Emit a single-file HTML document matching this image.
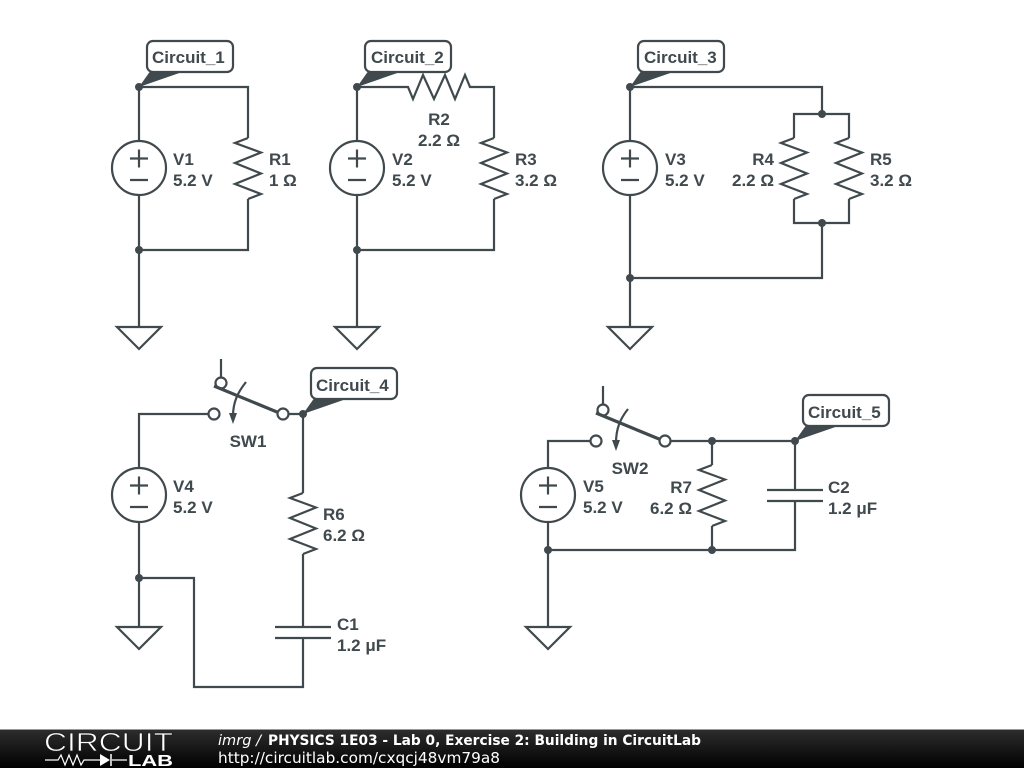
<!DOCTYPE html>
<html><head><meta charset="utf-8"><style>
html,body{margin:0;padding:0;background:#fff;width:1024px;height:768px;overflow:hidden}
svg{display:block}
.w{fill:none;stroke:#40494d;stroke-width:2.200;stroke-linejoin:miter}
.t{font-family:"Liberation Sans",sans-serif;font-weight:bold;font-size:17px;fill:#40494d}
.n{fill:#40494d}
.f{font-family:"DejaVu Sans",sans-serif;font-size:14px;fill:#fff}
</style></head><body>
<svg width="1024" height="768" viewBox="0 0 1024 768" xmlns="http://www.w3.org/2000/svg">
<defs>
<linearGradient id="g" x1="0" y1="0" x2="0" y2="1"><stop offset="0" stop-color="#2e2e2e"/><stop offset="1" stop-color="#000"/></linearGradient>
<path id="rv" d="M0 0L-13 5L13 14.500L-13 25L13 35.500L-13 46L13 56L0 61"/>
<g id="src"><circle r="27" style="fill:#fff"/><path d="M-9 -9.500H9M0 -18.500V-0.500M-9 12H9"/></g>
<path id="gnd" style="fill:#fff" d="M-22 0H22L0 22Z"/>
</defs>
<g class="w">
<!-- Circuit 1 -->
<path d="M248 138V87H139V327M248 199V250H139"/>
<use href="#rv" x="248" y="138"/><use href="#src" x="139" y="168"/><use href="#gnd" x="139" y="327"/>
<!-- Circuit 2 -->
<path d="M357 327V87H408L413 99L423 75L434 99L445 75L455 99L465 75L470 87H494V138M494 199V250H357"/>
<use href="#rv" x="494" y="138"/><use href="#src" x="357" y="168"/><use href="#gnd" x="357" y="327"/>
<!-- Circuit 3 -->
<path d="M630 327V87H822V114M794 138V114H849V138M794 199V223H849V199M822 223V278H630"/>
<use href="#rv" x="794" y="138"/><use href="#rv" x="849" y="138"/><use href="#src" x="630" y="168"/><use href="#gnd" x="630" y="327"/>
<!-- Circuit 4 -->
<path d="M208 414H139V627M288 414H303V493M303 554V627M275 627H331M275 638H331M303 638V687H194V578H139M221 359V378"/>
<use href="#rv" x="303" y="493"/><use href="#src" x="139" y="495"/><use href="#gnd" x="139" y="627"/>
<circle cx="214" cy="414" r="5.500" fill="#fff"/><circle cx="283" cy="414" r="5.500" fill="#fff"/><circle cx="221" cy="383" r="5.500" fill="#fff"/>
<path d="M214 386L277 412" stroke-width="3.200"/>
<path d="M246 382C238 392 233 402 233 416"/>
<!-- Circuit 5 -->
<path d="M590 441H548V627M670 441H795V490M795 501V550H548M712 441V465M712 526V550M767 490H823M767 501H823M603 386V405"/>
<use href="#rv" x="712" y="465"/><use href="#src" x="548" y="495"/><use href="#gnd" x="548" y="627"/>
<circle cx="596" cy="441" r="5.500" fill="#fff"/><circle cx="665" cy="441" r="5.500" fill="#fff"/><circle cx="603" cy="410" r="5.500" fill="#fff"/>
<path d="M596 413L659 439" stroke-width="3.200"/>
<path d="M628 409C620 419 616 429 616 443"/>
</g>
<g class="n">
<path d="M229 413H237L233 424Z"/><path d="M612 440H620L616 451Z"/>
<circle cx="139" cy="87" r="4"/><circle cx="139" cy="250" r="4"/>
<circle cx="357" cy="87" r="4"/><circle cx="357" cy="250" r="4"/>
<circle cx="630" cy="87" r="4"/><circle cx="822" cy="114" r="4"/><circle cx="822" cy="223" r="4"/><circle cx="630" cy="278" r="4"/>
<circle cx="303" cy="414" r="4"/><circle cx="139" cy="578" r="4"/>
<circle cx="712" cy="441" r="4"/><circle cx="795" cy="441" r="4"/><circle cx="548" cy="550" r="4"/><circle cx="712" cy="550" r="4"/>
<path d="M139 87L151 70H188Z"/><path d="M357 87L369 70H406Z"/><path d="M630 87L642 70H679Z"/><path d="M303 414L315 397H352Z"/><path d="M795 441L807 424H844Z"/>
</g>
<g class="w" style="fill:#fff">
<rect x="147" y="41" width="86" height="31" rx="6"/><rect x="365" y="41" width="86" height="31" rx="6"/><rect x="638" y="41" width="86" height="31" rx="6"/>
<rect x="311" y="368" width="86" height="31" rx="6"/><rect x="803" y="395" width="86" height="31" rx="6"/>
</g>
<g class="t">
<text x="152" y="63">Circuit_1</text><text x="371" y="63">Circuit_2</text><text x="644" y="63">Circuit_3</text><text x="316" y="391">Circuit_4</text><text x="808" y="418">Circuit_5</text>
<text x="173" y="165">V1</text><text x="173" y="186">5.2 V</text>
<text x="269" y="165">R1</text><text x="269" y="186">1 Ω</text>
<text x="392" y="165">V2</text><text x="392" y="186">5.2 V</text>
<text x="439" y="125" text-anchor="middle">R2</text><text x="439" y="146" text-anchor="middle">2.2 Ω</text>
<text x="515" y="165">R3</text><text x="515" y="186">3.2 Ω</text>
<text x="665" y="165">V3</text><text x="665" y="186">5.2 V</text>
<text x="774" y="165" text-anchor="end">R4</text><text x="774" y="186" text-anchor="end">2.2 Ω</text>
<text x="870" y="165">R5</text><text x="870" y="186">3.2 Ω</text>
<text x="248" y="447" text-anchor="middle">SW1</text>
<text x="173" y="492">V4</text><text x="173" y="513">5.2 V</text>
<text x="323" y="520">R6</text><text x="323" y="541">6.2 Ω</text>
<text x="337" y="630">C1</text><text x="337" y="651">1.2 μF</text>
<text x="630" y="474" text-anchor="middle">SW2</text>
<text x="583" y="492">V5</text><text x="583" y="513">5.2 V</text>
<text x="692" y="493" text-anchor="end">R7</text><text x="692" y="514" text-anchor="end">6.2 Ω</text>
<text x="828" y="493">C2</text><text x="828" y="514">1.2 μF</text>
</g>
<!-- footer -->
<rect x="0" y="729" width="1024" height="39" fill="url(#g)"/>
<rect x="0" y="729" width="1024" height="1" fill="#999"/>
<text x="44" y="751" font-family="'Liberation Sans',sans-serif" font-size="26" fill="#fff" stroke="#1c1c1c" stroke-width="0.700" textLength="129" lengthAdjust="spacingAndGlyphs">CIRCUIT</text>
<text x="128" y="766" font-family="'Liberation Sans',sans-serif" font-weight="bold" font-size="16" fill="#fff" textLength="45" lengthAdjust="spacingAndGlyphs">LAB</text>
<path d="M45 760H58L61 755L65 765L69 755L73 765L77 755L81 765L84 760H100M112 760H127" fill="none" stroke="#fff" stroke-width="1.200"/>
<path d="M100 754V766L110 760Z" fill="#fff"/><path d="M111 754V766" stroke="#fff" stroke-width="1.500"/>
<text class="f" x="218" y="745" font-style="italic" textLength="43" lengthAdjust="spacingAndGlyphs">imrg /</text>
<text class="f" x="268" y="745" font-weight="bold" textLength="433" lengthAdjust="spacingAndGlyphs">PHYSICS 1E03 - Lab 0, Exercise 2: Building in CircuitLab</text>
<text class="f" x="218" y="763" textLength="282" lengthAdjust="spacingAndGlyphs" style="font-size:15px">http://circuitlab.com/cxqcj48vm79a8</text>
</svg>
</body></html>
